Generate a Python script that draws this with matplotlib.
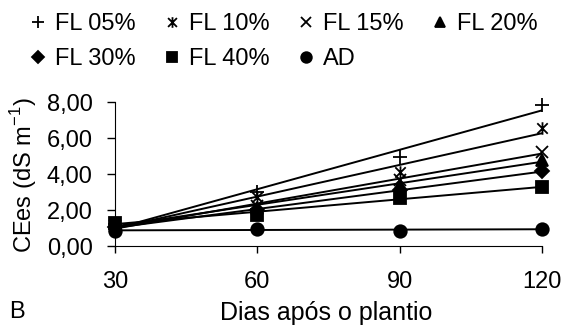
import numpy as np
import matplotlib
matplotlib.use("Agg")
import matplotlib.pyplot as plt
from matplotlib.path import Path
from matplotlib.ticker import FuncFormatter

plt.rcParams['font.family'] = ['Liberation Sans', 'DejaVu Sans']

dias = [30, 60, 90, 120]
labels = ["FL 05%", "FL 10%", "FL 15%", "FL 20%", "FL 30%", "FL 40%", "AD"]
fl05 = [1.20, 3.00, 4.95, 7.85]
fl10 = [1.15, 2.70, 4.10, 6.55]
fl15 = [1.10, 2.20, 3.65, 5.25]
fl20 = [1.25, 2.10, 3.40, 4.80]
fl30 = [1.05, 2.00, 3.10, 4.15]
fl40 = [1.30, 1.75, 2.65, 3.30]
ad = [0.85, 0.95, 0.85, 0.95]

# marcador "estrela" do Excel: x com traço vertical
star = Path([(-1, -1), (1, 1), (-1, 1), (1, -1), (0, -1.2), (0, 1.2)],
            [Path.MOVETO, Path.LINETO, Path.MOVETO, Path.LINETO, Path.MOVETO, Path.LINETO])

series = [fl05, fl10, fl15, fl20, fl30, fl40, ad]
markers = ['+', star, 'x', '^', 'D', 's', 'o']
msizes = [10, 9, 9, 9, 7, 8, 9]

fig = plt.figure(figsize=(5.67, 3.27), dpi=100)
ax = fig.add_axes([115/567, 1-246/327, 427/567, 144/327])

x = np.array(dias)
handles = []
for vals, m, ms, lab in zip(series, markers, msizes, labels):
    # linha de tendencia linear
    coef = np.polyfit(x, vals, 1)
    ax.plot(x, np.polyval(coef, x), color='black', lw=1.4, zorder=2)
    fc = 'none' if m is star else 'black'
    h, = ax.plot(x, vals, linestyle='none', marker=m, markersize=ms, markerfacecolor=fc,
                 color='black', markeredgewidth=1.3, label=lab, zorder=3, clip_on=False)
    handles.append(h)

ax.set_xlim(30, 120)
ax.set_ylim(0, 8)
ax.set_xticks(dias)
ax.set_yticks([0, 2, 4, 6, 8])
ax.yaxis.set_major_formatter(FuncFormatter(lambda v, p: "{:.2f}".format(v).replace('.', ',')))
ax.spines['top'].set_visible(False)
ax.spines['right'].set_visible(False)
ax.tick_params(axis='y', direction='out', length=6, width=1, pad=10, labelsize=17)
ax.tick_params(axis='x', direction='out', length=5, width=1, pad=13, labelsize=17)

fig.text(24/567, 1-175/327, "CEes (dS m$^{\\mathregular{-1}}$)", rotation=90, ha='center', va='center', fontsize=17)
fig.text(326/567, 1-320/327, "Dias após o plantio", ha='center', va='baseline', fontsize=18)
fig.text(9/567, 1-318/327, "B", ha='left', va='baseline', fontsize=17)

# ordem para preencher por linhas com ncol=4
order = [0, 4, 1, 5, 2, 6, 3]
fig.legend([handles[i] for i in order], [labels[i] for i in order], ncol=4,
           loc='upper left', bbox_to_anchor=(26/567, 1-13.5/327), frameon=False,
           fontsize=17, handlelength=1.0, handletextpad=0.22, columnspacing=1.05,
           labelspacing=0.55, borderpad=0, borderaxespad=0, numpoints=1, markerscale=0.85)

fig.savefig("out.png", dpi=100)
